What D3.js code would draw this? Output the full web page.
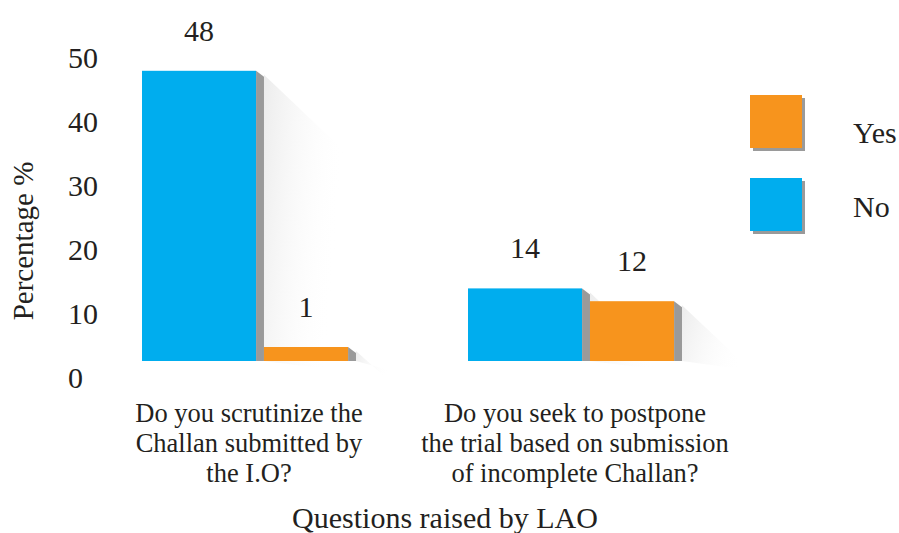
<!DOCTYPE html>
<html>
<head>
<meta charset="utf-8">
<script src="https://cdn.jsdelivr.net/npm/d3@7"></script>
<style>
  html, body { margin: 0; padding: 0; background: #fff; }
  svg { display: block; }
</style>
</head>
<body>
<svg id="chart" width="899" height="533"></svg>
<script>
// ---- data ----
const categories = ["Q1", "Q2"];
const categoryLines = [
  ["Do you scrutinize the", "Challan submitted by", "the I.O?"],
  ["Do you seek to postpone", "the trial based on submission", "of incomplete Challan?"]
];
const seriesNames = ["No", "Yes"];
const noValues = [48, 14];
const yesValues = [1, 12];
const yTicks = [0, 10, 20, 30, 40, 50];
const legendOrder = ["Yes", "No"];
const yTitle = "Percentage %";
const xTitle = "Questions raised by LAO";

// ---- styles ----
const FONT = "'Liberation Serif', 'Times New Roman', serif";
const TXT = "#231f20";
const colors = { No: "#00adee", Yes: "#f7941d" };
const sideColor = "#9a9a9a";
const W = 899, H = 533;

const svg = d3.select("#chart");
svg.append("rect").attr("width", W).attr("height", H).attr("fill", "#fff");

const defs = svg.append("defs");
const grad = defs.append("linearGradient").attr("id", "shadowGrad")
  .attr("x1", "0").attr("y1", "0").attr("x2", "1").attr("y2", "0.3");
grad.append("stop").attr("offset", "0").attr("stop-color", "#dcdcdc").attr("stop-opacity", 0.55);
grad.append("stop").attr("offset", "1").attr("stop-color", "#ffffff").attr("stop-opacity", 0);

function txt(sel) { return sel.attr("font-family", FONT).attr("fill", TXT); }

const y = d3.scaleLinear().domain([0, 50]).range([378, 58]);
const x = d3.scaleBand().domain(categories).range([142, 682]).paddingInner(0.3436).paddingOuter(0);
const bw = x.bandwidth();
const floorY = y(0) - 17;
const minH = 14;
const frac = { No: 0.533, Yes: 0.393 };
const sideW = 0.037 * bw;

const bars = [];
categories.forEach((c, i) => {
  let x0 = x(c);
  seriesNames.forEach(s => {
    const v = s === "No" ? noValues[i] : yesValues[i];
    const w = frac[s] * bw;
    const top = Math.min(y(v), floorY - minH);
    bars.push({ cat: c, series: s, value: v, x0: x0, x1: x0 + w, top: top });
    x0 += w + sideW;
  });
});

// shadows (diagonal long shadows to lower right)
const shadowG = svg.append("g");
bars.forEach(b => {
  const xr = b.x1 + sideW;
  const d = Math.min(80, (floorY - b.top) * 0.8 + 25);
  shadowG.append("polygon")
    .attr("points", [
      [xr, b.top + 4], [xr + d, b.top + d], [xr + d, floorY + 10], [xr, floorY]
    ].map(p => p.join(",")).join(" "))
    .attr("fill", "url(#shadowGrad)");
});

// bars
const barG = svg.append("g");
bars.forEach(b => {
  barG.append("rect")
    .attr("x", b.x0).attr("y", b.top)
    .attr("width", b.x1 - b.x0).attr("height", floorY - b.top)
    .attr("fill", colors[b.series]);
  barG.append("polygon")
    .attr("points", [
      [b.x1, b.top], [b.x1 + sideW, b.top + 6], [b.x1 + sideW, floorY], [b.x1, floorY]
    ].map(p => p.join(",")).join(" "))
    .attr("fill", sideColor);
  txt(barG.append("text"))
    .attr("x", (b.x0 + b.x1) / 2)
    .attr("y", b.top - 30)
    .attr("text-anchor", "middle")
    .attr("font-size", 30)
    .text(b.value);
});

// y axis (labels only)
const yAxis = d3.axisLeft(y).tickValues(yTicks).tickSize(0).tickPadding(0);
const yg = svg.append("g").attr("transform", "translate(68,0)").call(yAxis);
yg.attr("font-family", null).attr("font-size", null);
yg.select(".domain").remove();
txt(yg.selectAll("text"))
  .attr("text-anchor", "start").attr("x", 0)
  .attr("font-size", 30);

txt(svg.append("text"))
  .attr("transform", "translate(33,241) rotate(-90)")
  .attr("text-anchor", "middle")
  .attr("font-size", 29)
  .text(yTitle);

// category labels
categories.forEach((c, i) => {
  const cx = x(c) + bw / 2;
  const t = txt(svg.append("text")).attr("text-anchor", "middle").attr("font-size", 26.5);
  categoryLines[i].forEach((line, k) => {
    t.append("tspan").attr("x", cx).attr("y", 422 + k * 30).text(line);
  });
});

txt(svg.append("text"))
  .attr("x", 445).attr("y", 528)
  .attr("text-anchor", "middle")
  .attr("font-size", 30)
  .text(xTitle);

// legend
const legY = { Yes: 95, No: 178 };
const legTextY = { Yes: 143, No: 217 };
legendOrder.forEach(s => {
  svg.append("rect").attr("x", 753).attr("y", legY[s] + 3).attr("width", 52).attr("height", 53).attr("fill", "#9a9a9a");
  svg.append("rect").attr("x", 750).attr("y", legY[s]).attr("width", 52).attr("height", 53).attr("fill", colors[s]);
  txt(svg.append("text")).attr("x", 853).attr("y", legTextY[s]).attr("font-size", 30).text(s);
});
</script>
</body>
</html>
